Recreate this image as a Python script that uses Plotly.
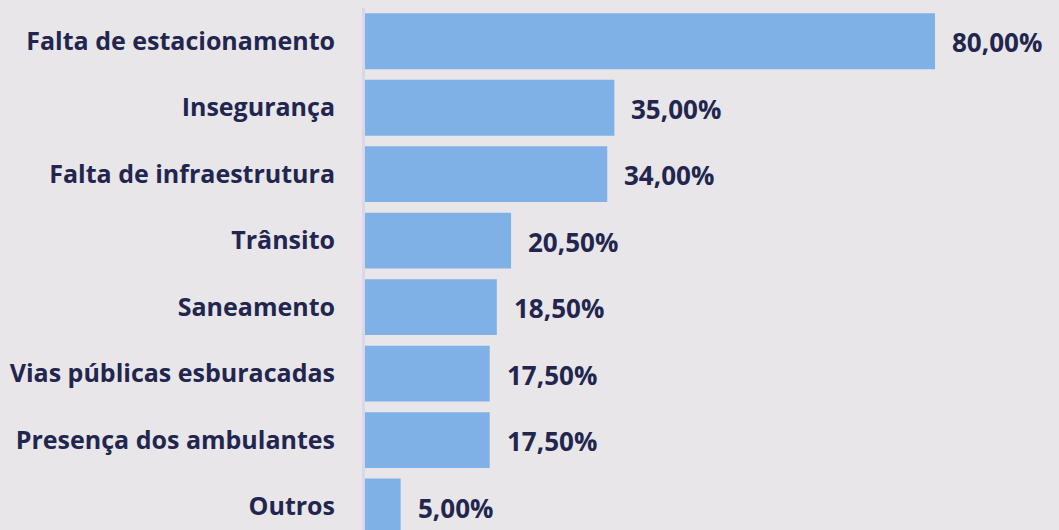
import plotly.graph_objects as go

categories = ["Falta de estacionamento", "Insegurança", "Falta de infraestrutura", "Trânsito",
              "Saneamento", "Vias públicas esburacadas", "Presença dos ambulantes", "Outros"]
values = [80.0, 35.0, 34.0, 20.5, 18.5, 17.5, 17.5, 5.0]
value_labels = ["80,00%", "35,00%", "34,00%", "20,50%", "18,50%", "17,50%", "17,50%", "5,00%"]

BG = "#e8e6e9"
BAR = "#7fb1e6"
TXT = "#22264f"
FONT = "Open Sans"

fig = go.Figure()
fig.add_trace(go.Bar(
    y=categories, x=values, orientation="h",
    marker=dict(color=BAR, line=dict(width=0)),
    width=0.84, hoverinfo="skip",
))

for c, v, t in zip(categories, values, value_labels):
    fig.add_annotation(x=v, y=c, text=t, showarrow=False, xanchor="left", yanchor="middle",
                       xshift=15, yshift=-1,
                       font=dict(family=FONT, size=26, color=TXT, weight="bold"))

fig.update_layout(
    width=1059, height=530,
    paper_bgcolor=BG, plot_bgcolor=BG,
    margin=dict(l=365, r=0, t=8, b=0),
    showlegend=False,
    bargap=0.16,
)
fig.update_xaxes(range=[0, 97.4], visible=False, showgrid=False, zeroline=False)
fig.update_yaxes(
    type="category", categoryorder="array", categoryarray=categories,
    range=[7.353, -0.5], showgrid=False, zeroline=False,
    showline=True, linecolor="#d9d7ea", linewidth=3,
    ticks="", ticklabelstandoff=22,
    tickfont=dict(family=FONT, size=25, color=TXT, weight="bold"),
)

fig.write_html("out.html",
               config={"displayModeBar": False},
               post_script="document.body.style.margin='0';document.body.style.padding='0';document.body.style.background='#e8e6e9';")
